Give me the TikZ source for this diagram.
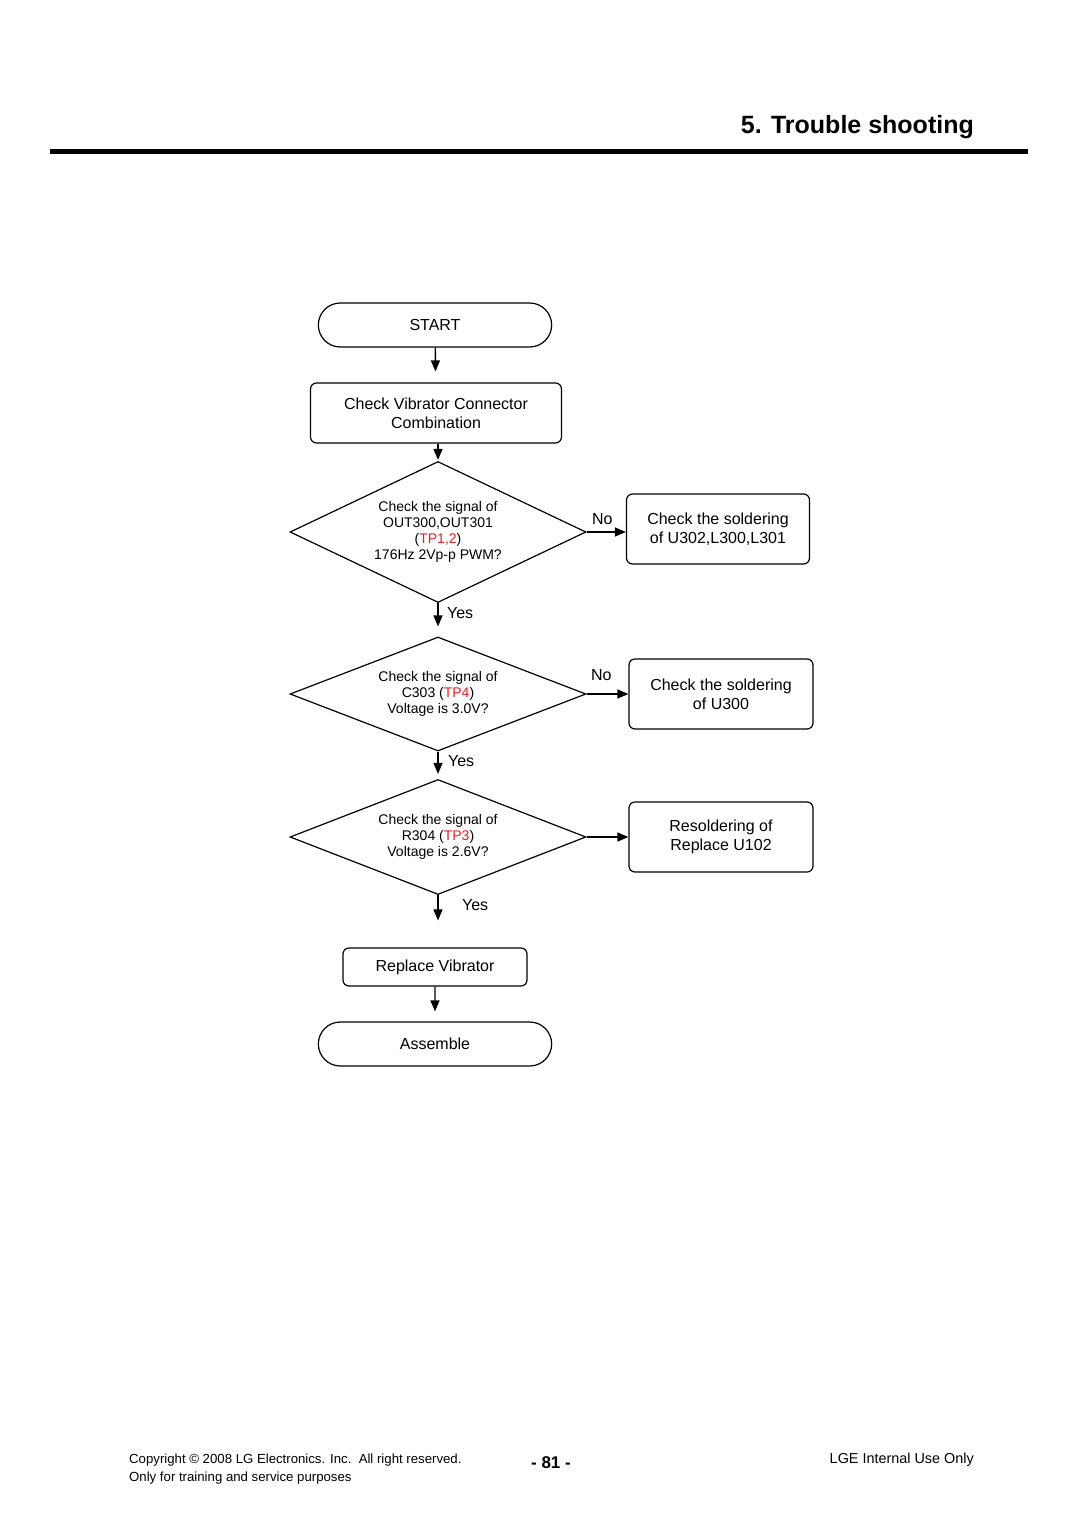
\documentclass[tikz,border=0pt]{standalone}
\usepackage{fontspec}
\setmainfont{Liberation Sans}
\usetikzlibrary{shapes.geometric,shapes.misc,arrows.meta}
\definecolor{tpred}{RGB}{237,28,36}
\begin{document}
\begin{tikzpicture}
[
    x=1pt, y=-1pt,
    every node/.style={font=\fontsize{16}{19}\selectfont, align=center},
    box/.style={draw, rounded corners=6pt, line width=1.2pt, inner sep=0pt},
    ends/.style={draw, rounded rectangle, line width=1.2pt, minimum width=240pt, minimum height=44pt},
    test/.style={draw, diamond, aspect=2.1, line width=1.2pt, minimum width=296pt, inner sep=1pt, font=\fontsize{14}{16}\selectfont},
    flow/.style={-{Triangle[length=11pt,width=9pt]}, line width=1.4pt},
    foot/.style={font=\fontsize{13.2}{16}\selectfont, inner sep=0pt},
]
\path[use as bounding box] (0,0) rectangle (1080,1526);
\node[anchor=base east, inner sep=0pt, font=\fontsize{25}{30}\selectfont\bfseries] (title) at (974,133) {5. Trouble shooting};
\draw[line width=5pt] (50,151) -- (1028,151);

\node[ends] (start) at (435,325) {START};
\node[box, minimum width=251pt, minimum height=60pt] (conn) at (436,413) {Check Vibrator Connector\\Combination};
\node[test, minimum height=141pt] (sig) at (438,532) {Check the signal of\\OUT300,OUT301\\(\textcolor{tpred}{TP1,2})\\176Hz 2Vp-p PWM?};
\node[box, minimum width=183pt, minimum height=70pt] (sold) at (718,529) {Check the soldering\\of U302,L300,L301};
\node[test, minimum height=114pt] (cvolt) at (438,694) {Check the signal of\\C303 (\textcolor{tpred}{TP4})\\Voltage is 3.0V?};
\node[box, minimum width=184pt, minimum height=70pt] (solu) at (721,694) {Check the soldering\\of U300};
\node[test, minimum height=115pt] (rvolt) at (438,837) {Check the signal of\\R304 (\textcolor{tpred}{TP3})\\Voltage is 2.6V?};
\node[box, minimum width=184pt, minimum height=70pt] (resold) at (721,837) {Resoldering of\\Replace U102};
\node[box, minimum width=184pt, minimum height=38pt] (repl) at (435,967) {Replace Vibrator};
\node[ends] (asm) at (435,1044) {Assemble};

\draw[flow, shorten >=11pt] (start) -- (conn);
\draw[flow, shorten >=1pt] (conn.south -| sig.north) -- (sig.north);
\draw[flow] (sig.east) -- (sig.east -| sold.west) node[pos=0.4, above=3pt] (no1) {No};
\draw[flow, shorten >=10pt] (sig.south) -- (cvolt.north) node[pos=0.3, right=5pt] (yes1) {Yes};
\draw[flow] (cvolt.east) -- (cvolt.east -| solu.west) node[pos=0.35, above=9pt] (no2) {No};
\draw[flow, shorten >=5pt] (cvolt.south) -- (rvolt.north) node[pos=0.35, right=6pt] (yes2) {Yes};
\draw[flow] (rvolt.east) -- (rvolt.east -| resold.west);
\draw[flow, shorten >=27pt] (rvolt.south) -- (rvolt.south |- repl.north) node[pos=0.2, right=20pt] (yes3) {Yes};
\draw[flow, shorten >=10pt] (repl) -- (asm);

\node[foot, anchor=base west] (copy) at (129,1463) {Copyright \textcopyright{} 2008 LG Electronics. Inc.\ \ All right reserved.};
\node[foot, anchor=base west] (train) at (129,1481) {Only for training and service purposes};
\node[anchor=base, inner sep=0pt, font=\fontsize{17}{20}\selectfont\bfseries] (page) at (551,1468) {- 81 -};
\node[foot, anchor=base east, font=\fontsize{14.4}{16}\selectfont] (lge) at (974,1463) {LGE Internal Use Only};
\end{tikzpicture}
\end{document}
